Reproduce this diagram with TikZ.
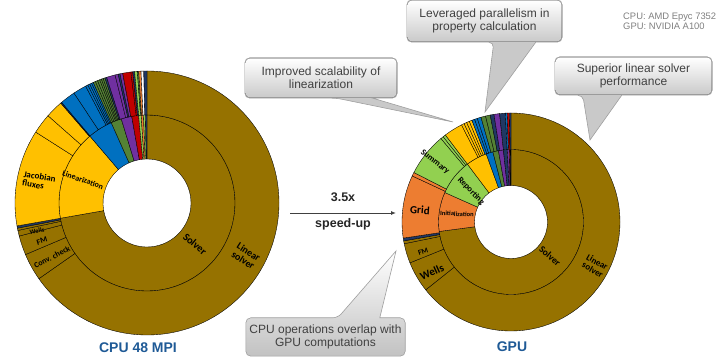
\documentclass[tikz,border=0pt]{standalone}
\usepackage{fontspec}
\setmainfont{Liberation Sans}
\newfontfamily\pielabel{Carlito}
\usetikzlibrary{arrows.meta,positioning,backgrounds}

\definecolor{brn}{RGB}{150,114,0}
\definecolor{ylw}{HTML}{FFC000}
\definecolor{blu}{HTML}{0070C0}
\definecolor{grn}{HTML}{548235}
\definecolor{prp}{HTML}{7030A0}
\definecolor{rd}{HTML}{C00000}
\definecolor{lgr}{HTML}{92D050}
\definecolor{org}{HTML}{ED7D31}
\definecolor{nvy}{HTML}{203864}
\definecolor{ttl}{HTML}{1F5A96}
\definecolor{txt}{HTML}{404040}

% one ring of a sunburst: centre, inner radius, outer radius, from/to/colour list
\newcommand{\ring}[4]{%
  \foreach \a/\b/\c in {#4}
    \filldraw[seg, fill=\c, shift={#1}] (\a:#2) arc[start angle=\a, end angle=\b, radius=#2]
      -- (\b:#3) arc[start angle=\b, end angle=\a, radius=#3] -- cycle;}

% speech balloons behind a note: node, base from, base to, tip
\newcommand{\balloondown}[4]{%
  \begin{pgfonlayer}{background}
    \path[balloon, fill=gray!42] ([xshift=#2]#1.south west) -- #4 -- ([xshift=#3]#1.south west)
      [rounded corners=5pt] -- (#1.south east) -- (#1.north east) -- (#1.north west)
      -- (#1.south west) -- cycle;
    \fill[top color=white, bottom color=gray!42, rounded corners=4.5pt]
      ([shift={(0.6pt,0.6pt)}]#1.south west) rectangle ([shift={(-0.6pt,-0.6pt)}]#1.north east);
  \end{pgfonlayer}}
\newcommand{\balloonup}[4]{%
  \begin{pgfonlayer}{background}
    \path[balloon, top color=white, bottom color=gray!48] ([xshift=#2]#1.north west) -- #4
      -- ([xshift=#3]#1.north west)
      [rounded corners=5pt] -- (#1.north east) -- (#1.south east) -- (#1.south west)
      -- (#1.north west) -- cycle;
  \end{pgfonlayer}}

\begin{document}
\begin{tikzpicture}[
  x=1pt, y=1pt,
  seg/.style={draw=black, line width=0.35pt},
  lbl/.style={font=\pielabel\bfseries\fontsize{#1}{#1}\selectfont, inner sep=0pt, align=center},
  lbl/.default=8,
  note/.style={text=txt, align=center, inner sep=0pt, font=\fontsize{12}{12.7}\selectfont},
  balloon/.style={draw=gray!75, line width=0.6pt},
  ttlf/.style={font=\bfseries\fontsize{14}{14}\selectfont, text=ttl, inner sep=0pt},
  arr/.style={-{Latex[length=5pt,width=4pt]}, line width=0.9pt, draw=txt}
]
\useasboundingbox (0,0) rectangle (723,358);

% CPU sunburst
\ring{(147,155)}{44}{88}{-170/90/brn, 130.5/190/ylw, 114/130.5/blu, 107/114/grn,
  100/107/prp, 95.5/100/rd, 93.8/95.5/lgr, 92.3/93.8/org, 91/92.3/lgr, 90/91/nvy}
\ring{(147,155)}{88}{132}{-145/90/brn, -157/-145/brn, -165.5/-157/brn, -168/-165.5/brn,
  -169/-168/brn, -170/-169/nvy, 147.5/190/ylw, 138.6/147.5/ylw, 130.8/138.6/ylw,
  130.3/130.8/nvy, 123.6/130.3/blu, 117.7/123.6/blu, 116.6/117.7/blu, 115.7/116.6/blu,
  114.8/115.7/blu, 114/114.8/blu, 113/114/grn, 112/113/grn, 111/112/grn, 110.2/111/grn,
  109.4/110.2/grn, 108.6/109.4/grn, 107.8/108.6/nvy, 104/107.8/prp, 102.6/104/prp,
  101.8/102.6/nvy, 100.6/101.8/prp, 97/100.6/rd, 96.2/97/rd, 95.4/96.2/nvy,
  94.2/95.4/lgr, 93.6/94.2/grn, 92.6/93.6/org, 91.4/92.6/white, 90/91.4/nvy}

% GPU sunburst
\ring{(511,136)}{36.5}{72.5}{-172.5/90/brn, 156/187.5/org, 127/156/lgr, 110/127/ylw,
  104.5/110/blu, 100/104.5/grn, 96/100/prp, 93/96/nvy, 91.3/93/prp, 90.5/91.3/rd, 90/90.5/nvy}
\ring{(511,136)}{72.5}{109}{-141.5/90/brn, -158/-141.5/brn, -168.5/-158/brn, -170/-168.5/brn,
  -171.5/-170/nvy, 155/188.5/org, 153/155/org, 130/153/lgr, 128.5/130/lgr, 127/128.5/lgr,
  117/127/ylw, 115.5/117/ylw, 114/115.5/ylw, 112.5/114/ylw, 111/112.5/ylw, 109.5/111/blu,
  108/109.5/blu, 106/108/blu, 103.5/106/grn, 101/103.5/grn, 99/101/nvy, 96/99/prp,
  93/96/nvy, 92/93/blu, 90.8/92/rd, 90/90.8/nvy}

% CPU labels
\node[lbl=9, rotate=-9, align=left] (jac) at (39,177) {Jacobian\\fluxes};
\node[lbl=8, rotate=-19] (lin) at (83,178) {Linearization};
\node[lbl=6.5, rotate=10] (cwel) at (37,127) {Wells};
\node[lbl=8, rotate=17] (cfm) at (42,117) {FM};
\node[lbl=8, rotate=28] (conv) at (52,101) {Conv. check};
\node[lbl=10.5, rotate=-40] (csol) at (195,114) {Solver};
\node[lbl=10, rotate=-33] (clin) at (246,102) {Linear\\solver};

% GPU labels
\node[lbl=11, rotate=-4] (grid) at (420,148) {Grid};
\node[lbl=6.5, rotate=-3] (init) at (457,144) {Initialization};
\node[lbl=8.5, rotate=-38] (summ) at (435,196) {Summary};
\node[lbl=8.5, rotate=-46] (rep) at (471,167) {Reporting};
\node[lbl=7.5, rotate=18] (gfm) at (423,106) {FM};
\node[lbl=11, rotate=24] (gwel) at (432,86) {Wells};
\node[lbl=9.5, rotate=-40] (gsol) at (550,102) {Solver};
\node[lbl=9, rotate=-30] (glin) at (595,92) {Linear\\solver};

% titles
\node[ttlf] (cputitle) at (138,10) {CPU 48 MPI};
\node[ttlf] (gputitle) at (512,11) {GPU};

% speed-up arrow
\coordinate (cpuside) at (290,145);
\coordinate (gpuside) at (396,145);
\draw[arr] (cpuside) -- (gpuside)
  node[midway, above=11pt, inner sep=0pt, font=\bfseries\fontsize{12.5}{12.5}\selectfont, text=black!85] (fact) {3.5x}
  node[midway, below=5pt, inner sep=0pt, font=\bfseries\fontsize{12.5}{12.5}\selectfont, text=black!85] (spd) {speed-up};

% hardware
\node[anchor=north west, inner sep=0pt, align=left, text=gray,
      font=\fontsize{9.4}{10.2}\selectfont] (hw) at (623,345)
  {CPU: AMD Epyc 7352\\GPU: NVIDIA A100};

% callouts
\node[note, minimum width=152pt, minimum height=40pt] (scal) at (321,280)
  {Improved scalability of\\linearization};
\balloondown{scal}{92pt}{128pt}{(453,236)}
\node[note, minimum width=155pt, minimum height=42pt] (prop) at (484.5,337)
  {Leveraged parallelism in\\property calculation};
\balloondown{prop}{87pt}{129pt}{(485,246)}
\node[note, minimum width=157pt, minimum height=38pt] (lsol) at (633.5,282)
  {Superior linear solver\\performance};
\balloondown{lsol}{28pt}{67pt}{(590,218)}
\node[note, minimum width=159pt, minimum height=38pt] (ovl) at (325.5,21)
  {CPU operations overlap with\\GPU computations};
\balloonup{ovl}{92pt}{134pt}{(396,107)}
\end{tikzpicture}
\end{document}
